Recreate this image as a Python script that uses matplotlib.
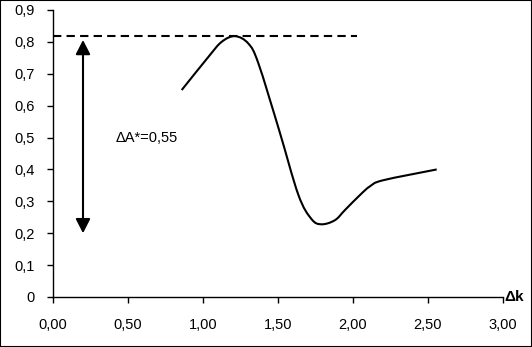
import matplotlib
matplotlib.use("Agg")
import matplotlib.pyplot as plt
from matplotlib.path import Path
from matplotlib.patches import PathPatch, Rectangle

plt.rcParams['font.family'] = ['Liberation Sans', 'DejaVu Sans']

# Data
dk = [0.858, 1.036, 1.124, 1.213, 1.302, 1.369, 1.507, 1.636, 1.724, 1.791,
      1.88, 1.947, 2.047, 2.113, 2.2, 2.558]
dA = [0.649, 0.753, 0.8, 0.818, 0.795, 0.733, 0.524, 0.32, 0.244, 0.228,
      0.241, 0.273, 0.32, 0.347, 0.366, 0.4]
max_level = 0.82
dash_end = 2.03
arrow_x = 0.2
arrow_low = 0.2
arrow_high = 0.806
annot_text = "ΔA*=0,55"
xticks = [0, 0.5, 1.0, 1.5, 2.0, 2.5, 3.0]
xticklabels = ["0,00", "0,50", "1,00", "1,50", "2,00", "2,50", "3,00"]
yticks = [0, 0.1, 0.2, 0.3, 0.4, 0.5, 0.6, 0.7, 0.8, 0.9]
yticklabels = ["0", "0,1", "0,2", "0,3", "0,4", "0,5", "0,6", "0,7", "0,8", "0,9"]

fig = plt.figure(figsize=(5.32, 3.47), dpi=100)
ax = fig.add_axes([53/532, 50/347, 450/532, 287/347])
ax.set_xlim(0, 3)
ax.set_ylim(0, 0.9)

# smooth curve (Catmull-Rom -> cubic Bezier) through the read points
pts = list(zip(dk, dA))
verts = [pts[0]]
codes = [Path.MOVETO]
n = len(pts)
for i in range(n - 1):
    p0 = pts[i - 1] if i > 0 else pts[i]
    p1 = pts[i]
    p2 = pts[i + 1]
    p3 = pts[i + 2] if i + 2 < n else pts[i + 1]
    c1 = (p1[0] + (p2[0] - p0[0]) / 6, p1[1] + (p2[1] - p0[1]) / 6)
    c2 = (p2[0] - (p3[0] - p1[0]) / 6, p2[1] - (p3[1] - p1[1]) / 6)
    verts += [c1, c2, p2]
    codes += [Path.CURVE4] * 3
ax.add_patch(PathPatch(Path(verts, codes), facecolor='none', edgecolor='black',
                       lw=1.5, capstyle='butt', joinstyle='round'))

# dashed max level
ax.plot([0, dash_end], [max_level, max_level], color='black', lw=1.5,
        dashes=(4, 2.5))

# double arrow
ax.annotate('', xy=(arrow_x, arrow_high), xytext=(arrow_x, arrow_low),
            arrowprops=dict(arrowstyle='<|-|>,head_length=0.43,head_width=0.22',
                            lw=1.5, color='black', mutation_scale=20,
                            shrinkA=0, shrinkB=0))
ax.text(0.42, 0.5, annot_text, ha='left', va='center', fontsize=10.5)

ax.set_xticks(xticks)
ax.set_xticklabels(xticklabels)
ax.set_yticks(yticks)
ax.set_yticklabels(yticklabels)
ax.tick_params(axis='both', direction='out', length=4, width=1, labelsize=10.5,
               color='black')
ax.tick_params(axis='x', pad=11)
ax.tick_params(axis='y', pad=9)
for s in ['top', 'right']:
    ax.spines[s].set_visible(False)
for s in ['left', 'bottom']:
    ax.spines[s].set_linewidth(1)

ax.text(1.003, 0, 'Δk', transform=ax.transAxes, ha='left', va='center',
        fontsize=11, fontweight='bold')

fig.patches.append(Rectangle((0, 0), 1, 1, transform=fig.transFigure,
                             fill=False, edgecolor='black', lw=1.5))

fig.savefig('out.png', dpi=100)
